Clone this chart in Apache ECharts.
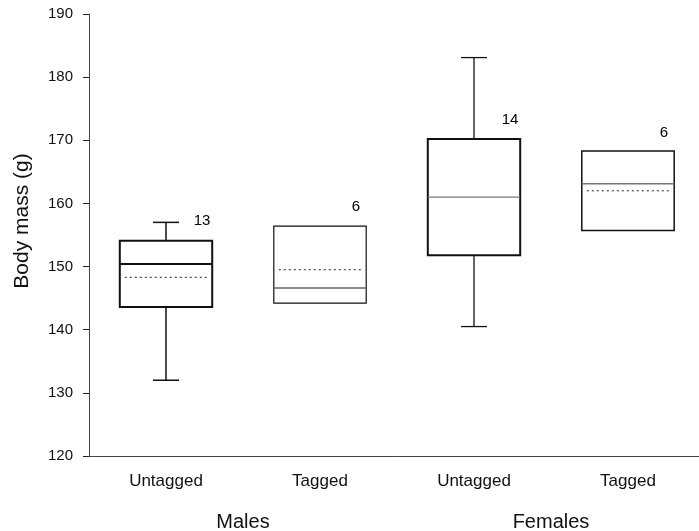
<!DOCTYPE html>
<html><head><meta charset="utf-8">
<script src="https://cdn.jsdelivr.net/npm/echarts@6/dist/echarts.min.js"></script>
<style>html,body{margin:0;padding:0;background:#fff}#c{width:699px;height:531px}</style>
</head><body><div id="c"></div>
<script>
const categories = ['Untagged', 'Tagged', 'Untagged', 'Tagged'];
const groups = ['Males', 'Females'];
const yTicks = [120, 130, 140, 150, 160, 170, 180, 190];
const yTitle = 'Body mass (g)';
// [min, q1, median, q3, max, mean]
const mins    = [132.0, 144.2, 140.5, 155.7];
const q1s     = [143.6, 144.2, 151.8, 155.7];
const medians = [150.4, 146.6, 161.0, 163.1];
const q3s     = [154.1, 156.4, 170.2, 168.3];
const maxs    = [157.0, 156.4, 183.1, 168.3];
const means   = [148.3, 149.5, 161.0, 162.0];
const nLabels = ['13', '6', '14', '6'];
const nLabelY = [157.2, 159.4, 173.2, 171.2];

const boxStyles = [
  {box: 2, med: 2, medColor: '#111', whisk: 1.5, showMean: true},
  {box: 1.2, med: 1.5, medColor: '#666', whisk: 1.2, showMean: true},
  {box: 2, med: 1.2, medColor: '#777', whisk: 1.3, showMean: false},
  {box: 1.5, med: 1.5, medColor: '#777', whisk: 1.3, showMean: true}
];

const boxData = categories.map((c, i) => [i, mins[i], q1s[i], medians[i], q3s[i], maxs[i], means[i]]);
const labelData = categories.map((c, i) => ({value: [i, nLabelY[i]], label: {formatter: nLabels[i]}}));

const chart = echarts.init(document.getElementById('c'));
const font = 'Liberation Sans, Arial, sans-serif';
chart.setOption({
  animation: false,
  grid: {left: 89, top: 14, width: 616, height: 442, outerBoundsMode: 'none', containLabel: false},
  graphic: [{
    type: 'text', x: 22, y: 221, rotation: Math.PI / 2,
    style: {text: yTitle, fill: '#111', font: '21px ' + font, align: 'center', verticalAlign: 'middle'}
  }],
  xAxis: [{
    type: 'category', data: categories, boundaryGap: true,
    axisLine: {lineStyle: {color: '#444', width: 1}},
    axisTick: {alignWithLabel: true, length: 5, lineStyle: {color: '#222'}},
    axisLabel: {color: '#111', fontSize: 17, fontFamily: font, margin: 17}
  }, {
    type: 'category', data: groups, position: 'bottom', offset: 44,
    axisLine: {show: false}, axisTick: {show: false},
    axisLabel: {color: '#111', fontSize: 20, fontFamily: font, margin: 12}
  }],
  yAxis: {
    type: 'value', min: 120, max: 190, interval: 10,
    splitLine: {show: false},
    axisLine: {show: true, lineStyle: {color: '#444', width: 1}},
    axisTick: {show: true, length: 6, lineStyle: {color: '#222'}},
    axisLabel: {color: '#111', fontSize: 15, fontFamily: font, margin: 16,
      formatter: v => yTicks.includes(v) ? String(v) : ''}
  },
  series: [{
    type: 'custom',
    data: boxData,
    encode: {x: 0, y: [1, 2, 3, 4, 5, 6]},
    renderItem: function (params, api) {
      const i = api.value(0);
      const s = boxStyles[params.dataIndex];
      const cw = api.size([1, 0])[0];
      const bw = cw * 0.6;
      const capw = 26;
      const p = v => api.coord([i, v]);
      const cx = p(api.value(3))[0];
      const yMin = p(api.value(1))[1], yQ1 = p(api.value(2))[1], yMed = p(api.value(3))[1];
      const yQ3 = p(api.value(4))[1], yMax = p(api.value(5))[1], yMean = p(api.value(6))[1];
      const L = cx - bw / 2, R = cx + bw / 2;
      const children = [];
      const line = (x1, y1, x2, y2, w, color, dash) => children.push({
        type: 'line', shape: {x1, y1, x2, y2},
        style: {stroke: color || '#111', lineWidth: w, lineDash: dash || null}
      });
      if (yMax < yQ3 - 0.5) {
        line(cx, yQ3, cx, yMax, s.whisk);
        line(cx - capw / 2, yMax, cx + capw / 2, yMax, s.whisk);
      }
      if (yMin > yQ1 + 0.5) {
        line(cx, yQ1, cx, yMin, s.whisk);
        line(cx - capw / 2, yMin, cx + capw / 2, yMin, s.whisk);
      }
      children.push({type: 'rect', shape: {x: L, y: yQ3, width: bw, height: yQ1 - yQ3},
        style: {fill: '#fff', stroke: '#111', lineWidth: s.box}});
      line(L, yMed, R, yMed, s.med, s.medColor);
      if (s.showMean) line(L + 5, yMean, R - 3, yMean, 1, '#222', [2, 3]);
      return {type: 'group', children};
    },
    z: 2
  }, {
    type: 'scatter',
    data: labelData,
    symbolSize: 0,
    itemStyle: {opacity: 1},
    label: {show: true, position: 'inside', offset: [36, 0], color: '#000', fontSize: 15, fontFamily: font},
    z: 3
  }]
});
</script></body></html>
